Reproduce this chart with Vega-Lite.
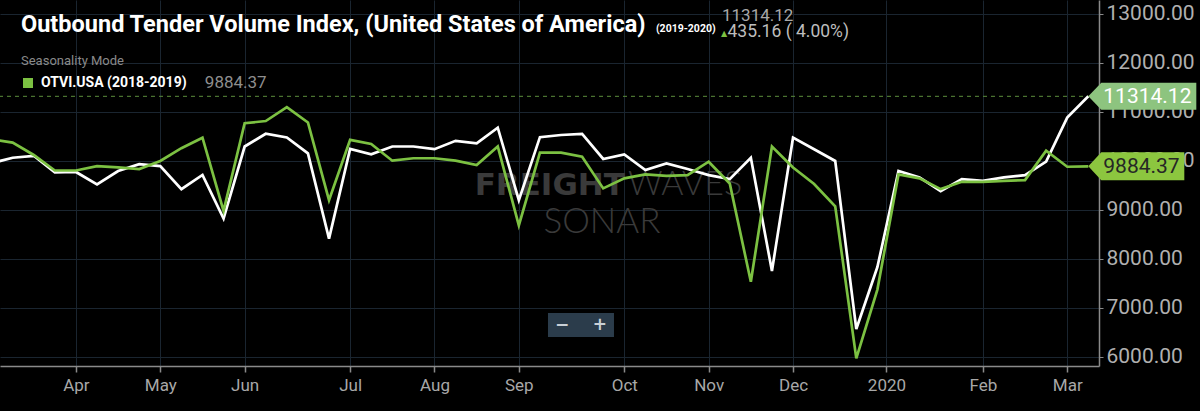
{
  "$schema": "https://vega.github.io/schema/vega-lite/v6.json",
  "width": 1099,
  "height": 366,
  "autosize": {"type": "none"},
  "padding": {"left": 0, "top": 0, "right": 101, "bottom": 45},
  "background": "#000000",
  "config": {
    "font": "Roboto",
    "view": {"stroke": null}
  },
  "title": {
    "text": "Outbound Tender Volume Index, (United States of America)",
    "anchor": "start",
    "frame": "group",
    "orient": "top",
    "offset": -55,
    "dx": 21,
    "baseline": "alphabetic",
    "font": "Roboto",
    "fontSize": 23.5,
    "fontWeight": "bold",
    "color": "#ffffff"
  },
  "datasets": {
    "otvi": [
      {"date": "2019-03-10", "series": "OTVI.USA (2019-2020)", "value": 9950},
      {"date": "2019-03-17", "series": "OTVI.USA (2019-2020)", "value": 10060},
      {"date": "2019-03-24", "series": "OTVI.USA (2019-2020)", "value": 10100},
      {"date": "2019-03-31", "series": "OTVI.USA (2019-2020)", "value": 9760},
      {"date": "2019-04-07", "series": "OTVI.USA (2019-2020)", "value": 9770},
      {"date": "2019-04-14", "series": "OTVI.USA (2019-2020)", "value": 9515},
      {"date": "2019-04-21", "series": "OTVI.USA (2019-2020)", "value": 9790},
      {"date": "2019-04-28", "series": "OTVI.USA (2019-2020)", "value": 9930},
      {"date": "2019-05-05", "series": "OTVI.USA (2019-2020)", "value": 9890},
      {"date": "2019-05-12", "series": "OTVI.USA (2019-2020)", "value": 9420},
      {"date": "2019-05-19", "series": "OTVI.USA (2019-2020)", "value": 9710},
      {"date": "2019-05-26", "series": "OTVI.USA (2019-2020)", "value": 8820},
      {"date": "2019-06-02", "series": "OTVI.USA (2019-2020)", "value": 10290},
      {"date": "2019-06-09", "series": "OTVI.USA (2019-2020)", "value": 10550},
      {"date": "2019-06-16", "series": "OTVI.USA (2019-2020)", "value": 10475},
      {"date": "2019-06-23", "series": "OTVI.USA (2019-2020)", "value": 10150},
      {"date": "2019-06-30", "series": "OTVI.USA (2019-2020)", "value": 8410},
      {"date": "2019-07-07", "series": "OTVI.USA (2019-2020)", "value": 10240},
      {"date": "2019-07-14", "series": "OTVI.USA (2019-2020)", "value": 10130},
      {"date": "2019-07-21", "series": "OTVI.USA (2019-2020)", "value": 10290},
      {"date": "2019-07-28", "series": "OTVI.USA (2019-2020)", "value": 10290},
      {"date": "2019-08-04", "series": "OTVI.USA (2019-2020)", "value": 10235},
      {"date": "2019-08-11", "series": "OTVI.USA (2019-2020)", "value": 10405},
      {"date": "2019-08-18", "series": "OTVI.USA (2019-2020)", "value": 10355},
      {"date": "2019-08-25", "series": "OTVI.USA (2019-2020)", "value": 10675},
      {"date": "2019-09-01", "series": "OTVI.USA (2019-2020)", "value": 9195},
      {"date": "2019-09-08", "series": "OTVI.USA (2019-2020)", "value": 10480},
      {"date": "2019-09-15", "series": "OTVI.USA (2019-2020)", "value": 10525},
      {"date": "2019-09-22", "series": "OTVI.USA (2019-2020)", "value": 10545},
      {"date": "2019-09-29", "series": "OTVI.USA (2019-2020)", "value": 10035},
      {"date": "2019-10-06", "series": "OTVI.USA (2019-2020)", "value": 10130},
      {"date": "2019-10-13", "series": "OTVI.USA (2019-2020)", "value": 9810},
      {"date": "2019-10-20", "series": "OTVI.USA (2019-2020)", "value": 9945},
      {"date": "2019-10-27", "series": "OTVI.USA (2019-2020)", "value": 9830},
      {"date": "2019-11-03", "series": "OTVI.USA (2019-2020)", "value": 9705},
      {"date": "2019-11-10", "series": "OTVI.USA (2019-2020)", "value": 9625},
      {"date": "2019-11-17", "series": "OTVI.USA (2019-2020)", "value": 10060},
      {"date": "2019-11-24", "series": "OTVI.USA (2019-2020)", "value": 7750},
      {"date": "2019-12-01", "series": "OTVI.USA (2019-2020)", "value": 10470},
      {"date": "2019-12-08", "series": "OTVI.USA (2019-2020)", "value": 10235},
      {"date": "2019-12-15", "series": "OTVI.USA (2019-2020)", "value": 9995},
      {"date": "2019-12-22", "series": "OTVI.USA (2019-2020)", "value": 6565},
      {"date": "2019-12-29", "series": "OTVI.USA (2019-2020)", "value": 7830},
      {"date": "2020-01-05", "series": "OTVI.USA (2019-2020)", "value": 9790},
      {"date": "2020-01-12", "series": "OTVI.USA (2019-2020)", "value": 9660},
      {"date": "2020-01-19", "series": "OTVI.USA (2019-2020)", "value": 9380},
      {"date": "2020-01-26", "series": "OTVI.USA (2019-2020)", "value": 9625},
      {"date": "2020-02-02", "series": "OTVI.USA (2019-2020)", "value": 9590},
      {"date": "2020-02-09", "series": "OTVI.USA (2019-2020)", "value": 9660},
      {"date": "2020-02-16", "series": "OTVI.USA (2019-2020)", "value": 9705},
      {"date": "2020-02-23", "series": "OTVI.USA (2019-2020)", "value": 9980},
      {"date": "2020-03-01", "series": "OTVI.USA (2019-2020)", "value": 10878.96},
      {"date": "2020-03-08", "series": "OTVI.USA (2019-2020)", "value": 11314.12},
      {"date": "2019-03-10", "series": "OTVI.USA (2018-2019)", "value": 10435},
      {"date": "2019-03-17", "series": "OTVI.USA (2018-2019)", "value": 10370},
      {"date": "2019-03-24", "series": "OTVI.USA (2018-2019)", "value": 10117},
      {"date": "2019-03-31", "series": "OTVI.USA (2018-2019)", "value": 9800},
      {"date": "2019-04-07", "series": "OTVI.USA (2018-2019)", "value": 9800},
      {"date": "2019-04-14", "series": "OTVI.USA (2018-2019)", "value": 9890},
      {"date": "2019-04-21", "series": "OTVI.USA (2018-2019)", "value": 9865},
      {"date": "2019-04-28", "series": "OTVI.USA (2018-2019)", "value": 9830},
      {"date": "2019-05-05", "series": "OTVI.USA (2018-2019)", "value": 9995},
      {"date": "2019-05-12", "series": "OTVI.USA (2018-2019)", "value": 10255},
      {"date": "2019-05-19", "series": "OTVI.USA (2018-2019)", "value": 10470},
      {"date": "2019-05-26", "series": "OTVI.USA (2018-2019)", "value": 8975},
      {"date": "2019-06-02", "series": "OTVI.USA (2018-2019)", "value": 10765},
      {"date": "2019-06-09", "series": "OTVI.USA (2018-2019)", "value": 10810},
      {"date": "2019-06-16", "series": "OTVI.USA (2018-2019)", "value": 11095},
      {"date": "2019-06-23", "series": "OTVI.USA (2018-2019)", "value": 10780},
      {"date": "2019-06-30", "series": "OTVI.USA (2018-2019)", "value": 9195},
      {"date": "2019-07-07", "series": "OTVI.USA (2018-2019)", "value": 10425},
      {"date": "2019-07-14", "series": "OTVI.USA (2018-2019)", "value": 10340},
      {"date": "2019-07-21", "series": "OTVI.USA (2018-2019)", "value": 10000},
      {"date": "2019-07-28", "series": "OTVI.USA (2018-2019)", "value": 10050},
      {"date": "2019-08-04", "series": "OTVI.USA (2018-2019)", "value": 10050},
      {"date": "2019-08-11", "series": "OTVI.USA (2018-2019)", "value": 10000},
      {"date": "2019-08-18", "series": "OTVI.USA (2018-2019)", "value": 9910},
      {"date": "2019-08-25", "series": "OTVI.USA (2018-2019)", "value": 10290},
      {"date": "2019-09-01", "series": "OTVI.USA (2018-2019)", "value": 8680},
      {"date": "2019-09-08", "series": "OTVI.USA (2018-2019)", "value": 10165},
      {"date": "2019-09-15", "series": "OTVI.USA (2018-2019)", "value": 10165},
      {"date": "2019-09-22", "series": "OTVI.USA (2018-2019)", "value": 10080},
      {"date": "2019-09-29", "series": "OTVI.USA (2018-2019)", "value": 9435},
      {"date": "2019-10-06", "series": "OTVI.USA (2018-2019)", "value": 9640},
      {"date": "2019-10-13", "series": "OTVI.USA (2018-2019)", "value": 9720},
      {"date": "2019-10-20", "series": "OTVI.USA (2018-2019)", "value": 9690},
      {"date": "2019-10-27", "series": "OTVI.USA (2018-2019)", "value": 9705},
      {"date": "2019-11-03", "series": "OTVI.USA (2018-2019)", "value": 9980},
      {"date": "2019-11-10", "series": "OTVI.USA (2018-2019)", "value": 9535},
      {"date": "2019-11-17", "series": "OTVI.USA (2018-2019)", "value": 7530},
      {"date": "2019-11-24", "series": "OTVI.USA (2018-2019)", "value": 10290},
      {"date": "2019-12-01", "series": "OTVI.USA (2018-2019)", "value": 9860},
      {"date": "2019-12-08", "series": "OTVI.USA (2018-2019)", "value": 9525},
      {"date": "2019-12-15", "series": "OTVI.USA (2018-2019)", "value": 9070},
      {"date": "2019-12-22", "series": "OTVI.USA (2018-2019)", "value": 5965},
      {"date": "2019-12-29", "series": "OTVI.USA (2018-2019)", "value": 7370},
      {"date": "2020-01-05", "series": "OTVI.USA (2018-2019)", "value": 9720},
      {"date": "2020-01-12", "series": "OTVI.USA (2018-2019)", "value": 9640},
      {"date": "2020-01-19", "series": "OTVI.USA (2018-2019)", "value": 9420},
      {"date": "2020-01-26", "series": "OTVI.USA (2018-2019)", "value": 9570},
      {"date": "2020-02-02", "series": "OTVI.USA (2018-2019)", "value": 9570},
      {"date": "2020-02-09", "series": "OTVI.USA (2018-2019)", "value": 9590},
      {"date": "2020-02-16", "series": "OTVI.USA (2018-2019)", "value": 9605},
      {"date": "2020-02-23", "series": "OTVI.USA (2018-2019)", "value": 10205},
      {"date": "2020-03-01", "series": "OTVI.USA (2018-2019)", "value": 9877},
      {"date": "2020-03-08", "series": "OTVI.USA (2018-2019)", "value": 9884.37}
    ]
  },
  "layer": [
    {
      "data": {"values": [{"label": "FREIGHT"}]},
      "mark": {"type": "text", "align": "right", "baseline": "alphabetic", "font": "DejaVu Sans", "fontWeight": "bold", "fontSize": 31, "color": "#3a3a3a"},
      "encoding": {
        "x": {"datum": {"year": 2019, "month": 10, "date": 6, "hours": 5, "utc": true}, "type": "temporal"},
        "y": {"datum": 9300, "type": "quantitative"},
        "text": {"field": "label"}
      }
    },
    {
      "data": {"values": [{"label": "WAVES"}]},
      "mark": {"type": "text", "align": "left", "baseline": "alphabetic", "font": "Lato", "fontWeight": 300, "fontSize": 34, "color": "#3a3a3a"},
      "encoding": {
        "x": {"datum": {"year": 2019, "month": 10, "date": 7, "hours": 6, "utc": true}, "type": "temporal"},
        "y": {"datum": 9300, "type": "quantitative"},
        "text": {"field": "label"}
      }
    },
    {
      "data": {"values": [{"label": "SONAR"}]},
      "mark": {"type": "text", "align": "center", "baseline": "alphabetic", "font": "Lato", "fontWeight": 300, "fontSize": 35, "color": "#3a3a3a"},
      "encoding": {
        "x": {"datum": {"year": 2019, "month": 9, "date": 28, "hours": 14, "utc": true}, "type": "temporal"},
        "y": {"datum": 8524, "type": "quantitative"},
        "text": {"field": "label"}
      }
    },
    {
      "data": {"values": [{"label": "zoom"}]},
      "mark": {"type": "point", "filled": true, "size": 4, "opacity": 1, "strokeWidth": 0, "shape": "M-33,-12L33,-12L33,12L-33,12Z", "color": "#2b3c4b"},
      "encoding": {
        "x": {"datum": {"year": 2019, "month": 9, "date": 21, "hours": 15, "utc": true}, "type": "temporal"},
        "y": {"datum": 6647, "type": "quantitative"}
      }
    },
    {
      "data": {"values": [{"label": "−\u00a0\u00a0\u00a0\u00a0+"}]},
      "mark": {"type": "text", "align": "center", "baseline": "middle", "font": "DejaVu Sans", "fontWeight": "bold", "fontSize": 17, "color": "#c9d0d6"},
      "encoding": {
        "x": {"datum": {"year": 2019, "month": 9, "date": 21, "hours": 15, "utc": true}, "type": "temporal"},
        "y": {"datum": 6647, "type": "quantitative"},
        "text": {"field": "label"}
      }
    },
    {
      "data": {"name": "otvi"},
      "transform": [
        {"joinaggregate": [{"op": "max", "field": "date", "as": "maxd"}]},
        {"filter": "time(datum.date) == time(datum.maxd) && datum.series == 'OTVI.USA (2019-2020)'"}
      ],
      "mark": {"type": "rule", "strokeDash": [4, 4], "strokeWidth": 1, "color": "#5b8e3c"},
      "encoding": {
        "y": {"field": "value", "type": "quantitative"}
      }
    },
    {
      "data": {"name": "otvi"},
      "mark": {"type": "line", "strokeWidth": 2.7, "clip": true},
      "encoding": {
        "x": {
          "field": "date",
          "type": "temporal",
          "scale": {
            "type": "utc",
            "nice": false,
            "domain": [
              {"year": 2019, "month": 3, "date": 12, "hours": 19, "minutes": 12, "utc": true},
              {"year": 2020, "month": 3, "date": 11, "hours": 13, "minutes": 12, "utc": true}
            ]
          },
          "axis": {
            "title": null,
            "values": [
              {"year": 2019, "month": 4, "date": 7, "utc": true},
              {"year": 2019, "month": 5, "date": 5, "utc": true},
              {"year": 2019, "month": 6, "date": 2, "utc": true},
              {"year": 2019, "month": 7, "date": 7, "utc": true},
              {"year": 2019, "month": 8, "date": 4, "utc": true},
              {"year": 2019, "month": 9, "date": 1, "utc": true},
              {"year": 2019, "month": 10, "date": 6, "utc": true},
              {"year": 2019, "month": 11, "date": 3, "utc": true},
              {"year": 2019, "month": 12, "date": 1, "utc": true},
              {"year": 2020, "month": 1, "date": 1, "utc": true},
              {"year": 2020, "month": 2, "date": 2, "utc": true},
              {"year": 2020, "month": 3, "date": 1, "utc": true}
            ],
            "labelExpr": "utcmonth(datum.value) == 0 ? utcFormat(datum.value, '%Y') : utcFormat(datum.value, '%b')",
            "grid": true,
            "gridColor": "#1a2530",
            "gridWidth": 1,
            "domainColor": "#8a8a8a",
            "domainWidth": 1.5,
            "tickColor": "#8a8a8a",
            "tickWidth": 1.5,
            "tickSize": 6,
            "labelColor": "#a8a8a8",
            "labelFont": "Roboto",
            "labelFontSize": 17,
            "labelPadding": 5,
            "labelFlush": false,
            "labelOverlap": false
          }
        },
        "y": {
          "field": "value",
          "type": "quantitative",
          "scale": {"domain": [5810, 13280], "nice": false, "zero": false},
          "axis": {
            "orient": "right",
            "title": null,
            "values": [6000, 7000, 8000, 9000, 10000, 11000, 12000, 13000],
            "format": ".2f",
            "grid": true,
            "gridColor": "#1a2530",
            "gridWidth": 1,
            "domainColor": "#8a8a8a",
            "domainWidth": 1.5,
            "tickColor": "#8a8a8a",
            "tickSize": 4,
            "labelColor": "#b0b0b0",
            "labelFont": "Roboto",
            "labelFontSize": 21,
            "labelPadding": 3,
            "labelFlush": false,
            "labelOverlap": false
          }
        },
        "color": {
          "field": "series",
          "type": "nominal",
          "scale": {
            "domain": ["OTVI.USA (2019-2020)", "OTVI.USA (2018-2019)"],
            "range": ["#ffffff", "#7cc142"]
          },
          "legend": {
            "title": "Seasonality Mode",
            "orient": "none",
            "legendX": 21,
            "legendY": 55,
            "values": ["OTVI.USA (2018-2019)"],
            "symbolType": "square",
            "symbolSize": 100,
            "symbolFillColor": "#7cc142",
            "symbolStrokeWidth": 0,
            "labelFont": "Roboto",
            "labelFontWeight": "bold",
            "labelFontSize": 14,
            "labelColor": "#ffffff",
            "labelOffset": 6,
            "labelLimit": 300,
            "titleFont": "Roboto",
            "titleFontWeight": "normal",
            "titleFontSize": 13,
            "titleColor": "#8a8a8a",
            "titlePadding": 8
          }
        }
      }
    },
    {
      "data": {"name": "otvi"},
      "transform": [
        {"joinaggregate": [{"op": "max", "field": "date", "as": "maxd"}]},
        {"filter": "time(datum.date) == time(datum.maxd) && datum.series == 'OTVI.USA (2019-2020)'"}
      ],
      "mark": {"type": "point", "filled": true, "size": 4, "opacity": 1, "strokeWidth": 0, "shape": "M0,0L13,-13.5L108,-13.5L108,13.5L13,13.5Z", "color": "#8dc47f"},
      "encoding": {
        "x": {"field": "date", "type": "temporal"},
        "y": {"field": "value", "type": "quantitative"}
      }
    },
    {
      "data": {"name": "otvi"},
      "transform": [
        {"joinaggregate": [{"op": "max", "field": "date", "as": "maxd"}]},
        {"filter": "time(datum.date) == time(datum.maxd) && datum.series == 'OTVI.USA (2018-2019)'"}
      ],
      "mark": {"type": "point", "filled": true, "size": 4, "opacity": 1, "strokeWidth": 0, "shape": "M0,0L13,-14L96,-14L96,14L13,14Z", "color": "#8cc63f"},
      "encoding": {
        "x": {"field": "date", "type": "temporal"},
        "y": {"field": "value", "type": "quantitative"}
      }
    },
    {
      "data": {"name": "otvi"},
      "transform": [
        {"joinaggregate": [{"op": "max", "field": "date", "as": "maxd"}]},
        {"filter": "time(datum.date) == time(datum.maxd)"}
      ],
      "mark": {"type": "text", "align": "left", "baseline": "middle", "dx": 15, "dy": 1, "font": "Roboto", "fontSize": 21},
      "encoding": {
        "x": {"field": "date", "type": "temporal"},
        "y": {"field": "value", "type": "quantitative"},
        "text": {"field": "value", "type": "quantitative", "format": ".2f"},
        "fill": {
          "condition": {"test": "datum.series == 'OTVI.USA (2019-2020)'", "value": "#ffffff"},
          "value": "#262626"
        }
      }
    },
    {
      "data": {"values": [{"label": "(2019-2020)"}]},
      "mark": {"type": "text", "align": "left", "baseline": "alphabetic", "font": "Roboto", "fontWeight": "bold", "fontSize": 10.5, "color": "#ffffff"},
      "encoding": {
        "x": {"datum": {"year": 2019, "month": 10, "date": 16, "hours": 12, "utc": true}, "type": "temporal"},
        "y": {"datum": 12627, "type": "quantitative"},
        "text": {"field": "label"}
      }
    },
    {
      "data": {"values": [{"label": "11314.12"}]},
      "mark": {"type": "text", "align": "left", "baseline": "alphabetic", "font": "Roboto", "fontSize": 17, "color": "#a8a8a8"},
      "encoding": {
        "x": {"datum": {"year": 2019, "month": 11, "date": 7, "hours": 10, "utc": true}, "type": "temporal"},
        "y": {"datum": 12851, "type": "quantitative"},
        "text": {"field": "label"}
      }
    },
    {
      "data": {"values": [{"label": "▲"}]},
      "mark": {"type": "text", "align": "center", "baseline": "alphabetic", "font": "DejaVu Sans", "fontSize": 8, "color": "#7cc142"},
      "encoding": {
        "x": {"datum": {"year": 2019, "month": 11, "date": 8, "hours": 2, "utc": true}, "type": "temporal"},
        "y": {"datum": 12555, "type": "quantitative"},
        "text": {"field": "label"}
      }
    },
    {
      "data": {"values": [{"label": "435.16 ( 4.00%)"}]},
      "mark": {"type": "text", "align": "left", "baseline": "alphabetic", "font": "Roboto", "fontSize": 17.5, "color": "#bdbdbd"},
      "encoding": {
        "x": {"datum": {"year": 2019, "month": 11, "date": 9, "hours": 6, "utc": true}, "type": "temporal"},
        "y": {"datum": 12524, "type": "quantitative"},
        "text": {"field": "label"}
      }
    },
    {
      "data": {"values": [{"label": "9884.37"}]},
      "mark": {"type": "text", "align": "left", "baseline": "alphabetic", "font": "Roboto", "fontSize": 17, "color": "#8e8e8e"},
      "encoding": {
        "x": {"datum": {"year": 2019, "month": 5, "date": 19, "hours": 19, "utc": true}, "type": "temporal"},
        "y": {"datum": 11484, "type": "quantitative"},
        "text": {"field": "label"}
      }
    }
  ]
}
